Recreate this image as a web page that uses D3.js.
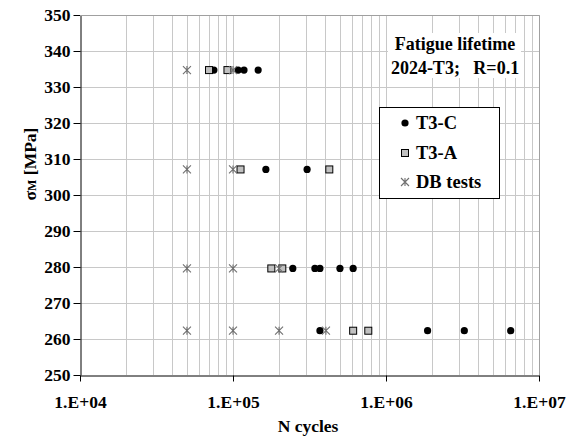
<!DOCTYPE html>
<html><head><meta charset="utf-8">
<script src="https://cdn.jsdelivr.net/npm/d3@7"></script>
<style>body{margin:0;background:#fff}svg{display:block}text{font-family:"Liberation Serif","Times New Roman",serif;font-weight:bold}</style>
</head><body><svg id="c" width="568" height="439"></svg>
<script>
const t3cN = [7.5e4,1.08e5,1.18e5,1.46e5, 1.64e5,3.05e5, 2.46e5,3.43e5,3.7e5,5.0e5,6.1e5, 3.7e5,1.87e6,3.25e6,6.53e6];
const t3cS = [334.7,334.7,334.7,334.7, 307.1,307.1, 279.6,279.6,279.6,279.6,279.6, 262.3,262.3,262.3,262.3];
const t3aN = [6.97e4,9.2e4, 1.12e5,4.26e5, 1.78e5,2.1e5, 6.1e5,7.66e5];
const t3aS = [334.7,334.7, 307.1,307.1, 279.6,279.6, 262.3,262.3];
const dbN = [5e4,1e5, 5e4,1e5, 5e4,1e5,2e5, 5e4,1e5,2e5,4.05e5];
const dbS = [334.7,334.7, 307.1,307.1, 279.6,279.6,279.6, 262.3,262.3,262.3,262.3];
const xTicks = [1e4,1e5,1e6,1e7];
const xTickLabels = ["1.E+04","1.E+05","1.E+06","1.E+07"];
const yTicks = [250,260,270,280,290,300,310,320,330,340,350];
const legendNames = ["T3-C","T3-A","DB tests"];

const svg = d3.select("#c");
const L=80,R=539,T=15,B=375;
const x = d3.scaleLog().domain([1e4,1e7]).range([L,R]);
const y = d3.scaleLinear().domain([250,350]).range([B,T]);

// gridlines
const minor=[];
for(let d=1e4; d<1e7; d*=10) for(let k=2;k<=10;k++) minor.push(d*k);
svg.append("g").selectAll("line").data(minor).join("line")
  .attr("x1",d=>Math.round(x(d))+0.5).attr("x2",d=>Math.round(x(d))+0.5)
  .attr("y1",T).attr("y2",B).attr("stroke","#c8c8c8").attr("stroke-width",1);
svg.append("g").selectAll("line").data(yTicks.slice(1)).join("line")
  .attr("x1",L).attr("x2",R).attr("y1",d=>Math.round(y(d))+0.5).attr("y2",d=>Math.round(y(d))+0.5)
  .attr("stroke","#c8c8c8").attr("stroke-width",1);

// title white box
svg.append("rect").attr("x",388).attr("y",33).attr("width",133).attr("height",45).attr("fill","#fff");
svg.append("text").attr("x",455).attr("y",50).attr("text-anchor","middle").attr("font-size",18).text("Fatigue lifetime");
svg.append("text").attr("x",455).attr("y",74).attr("text-anchor","middle").attr("font-size",18).attr("xml:space","preserve").text("2024-T3;   R=0.1");

// axes
const ya = d3.axisLeft(y).tickValues(yTicks).tickSize(7).tickSizeOuter(0).tickPadding(3);
const yg = svg.append("g").attr("transform",`translate(${L+0.5},0)`).call(ya);
yg.select(".domain").attr("stroke","#000");
yg.selectAll("text").attr("font-size",17.5).attr("font-family","Liberation Serif").attr("font-weight","bold").attr("dy","0.33em");
const xa = d3.axisBottom(x).tickValues(xTicks).tickFormat((d,i)=>xTickLabels[i]).tickSize(6).tickSizeOuter(0).tickPadding(14);
const xg = svg.append("g").attr("transform",`translate(0,${B+0.5})`).call(xa);
xg.selectAll("text").attr("font-size",17.5).attr("font-family","Liberation Serif").attr("font-weight","bold");

function star(g){ g.append("path").attr("d","M-4,-4L4,4M-4,4L4,-4M0,-4L0,4").attr("stroke","#707070").attr("stroke-width",1.1).attr("fill","none"); }

// series
svg.append("g").selectAll("circle").data(t3cN).join("circle")
  .attr("cx",d=>x(d)).attr("cy",(d,i)=>y(t3cS[i])).attr("r",3.6).attr("fill","#000");
svg.append("g").selectAll("rect").data(t3aN).join("rect")
  .attr("x",d=>x(d)-3.5).attr("y",(d,i)=>y(t3aS[i])-3.5).attr("width",7).attr("height",7)
  .attr("fill","#c0c0c0").attr("stroke","#000").attr("stroke-width",1);
svg.append("g").selectAll("g").data(dbN).join("g")
  .attr("transform",(d,i)=>`translate(${x(d)},${y(dbS[i])})`).each(function(){star(d3.select(this));});

// legend
svg.append("rect").attr("x",379.5).attr("y",107.5).attr("width",120).attr("height",91).attr("fill","#fff").attr("stroke","#000");
const ly=[123,153,182];
const lg = svg.append("g");
legendNames.forEach((n,i)=>{
  lg.append("text").attr("x",416).attr("y",ly[i]+6).attr("font-size",18.5).text(n);
});
lg.append("circle").attr("cx",405).attr("cy",ly[0]).attr("r",3.6).attr("fill","#000");
lg.append("rect").attr("x",401.5).attr("y",ly[1]-3.5).attr("width",7).attr("height",7).attr("fill","#c0c0c0").attr("stroke","#000");
star(lg.append("g").attr("transform",`translate(405,${ly[2]})`));

// plot border top/right
svg.append("path").attr("d",`M${L},${T+0.5}H${R+0.5}V${B}`).attr("stroke","#a0a0a0").attr("fill","none");

// axis titles
svg.append("text").attr("x",308).attr("y",432).attr("text-anchor","middle").attr("font-size",17.5).text("N cycles");
const yt = svg.append("text").attr("transform","translate(36,164) rotate(-90)").attr("text-anchor","middle").attr("font-size",17.5);
yt.append("tspan").text("σ");
yt.append("tspan").attr("font-size",12).text("M");
yt.append("tspan").text(" [MPa]");
</script></body></html>
